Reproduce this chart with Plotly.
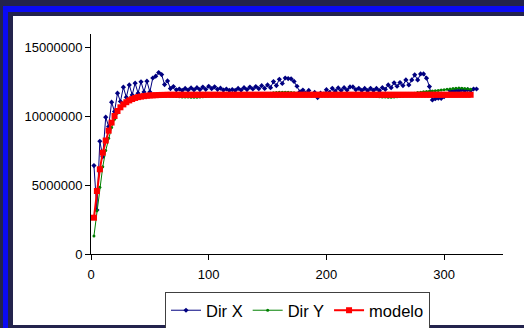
import plotly.graph_objects as go

# ---- data (values in millions) ----
x_dir_x = [2.5 * i for i in range(1, 132)]
x_dir_y = [2.5 * i for i in range(1, 130)]
x_modelo = [2.5 * i for i in range(1, 130)]

dir_x_m = [
    6.43, 3.20, 8.20, 7.08, 9.95, 9.27, 11.04, 10.36, 11.70, 11.09,
    12.13, 11.40, 12.30, 11.57, 12.42, 11.70, 12.52, 11.79, 12.57, 11.79,
    12.80, 12.93, 13.20, 13.05, 12.32, 12.59, 12.03, 12.18, 11.94, 12.00,
    11.90, 12.04, 11.92, 12.08, 11.94, 12.10, 11.96, 12.14, 11.98, 12.20,
    12.02, 12.16, 11.98, 12.06, 11.92, 12.00, 11.90, 11.96, 11.90, 12.04,
    11.92, 12.10, 11.96, 12.14, 12.00, 12.18, 12.02, 12.24, 12.04, 12.30,
    12.10, 12.54, 12.25, 12.71, 12.40, 12.80, 12.76, 12.74, 12.55, 12.20,
    11.80, 11.92, 11.70, 11.90, 11.55, 11.75, 11.38, 11.70, 11.62, 11.95,
    11.75, 12.05, 11.85, 12.08, 11.90, 12.10, 11.92, 12.15, 12.15, 11.95,
    12.05, 11.90, 12.04, 11.88, 12.05, 11.90, 12.04, 11.88, 12.10, 11.98,
    12.30, 12.10, 12.45, 12.20, 12.47, 12.25, 12.66, 12.30, 12.66, 13.03,
    12.66, 13.10, 13.10, 12.79, 12.18, 11.20, 11.30, 11.33, 11.32, 11.45,
    11.60, 11.90, 11.80, 11.92, 11.85, 11.95, 11.88, 11.95, 11.90, 12.00,
    12.00,
]

dir_y_m = [
    1.31, 3.15, 4.85, 6.35, 7.52, 8.42, 9.20, 9.80, 10.25, 10.60,
    10.85, 11.05, 11.20, 11.32, 11.40, 11.45, 11.49, 11.52, 11.54, 11.55,
    11.56, 11.57, 11.57, 11.56, 11.55, 11.53, 11.50, 11.48, 11.45, 11.43,
    11.42, 11.42, 11.41, 11.40, 11.40, 11.40, 11.41, 11.43, 11.45, 11.48,
    11.50, 11.53, 11.55, 11.57, 11.58, 11.59, 11.60, 11.60, 11.61, 11.61,
    11.62, 11.62, 11.62, 11.61, 11.61, 11.62, 11.63, 11.65, 11.66, 11.68,
    11.70, 11.72, 11.74, 11.76, 11.77, 11.77, 11.76, 11.74, 11.72, 11.70,
    11.68, 11.66, 11.65, 11.63, 11.62, 11.60, 11.58, 11.57, 11.56, 11.56,
    11.57, 11.58, 11.59, 11.60, 11.60, 11.60, 11.60, 11.59, 11.58, 11.57,
    11.56, 11.55, 11.54, 11.52, 11.50, 11.48, 11.45, 11.43, 11.42, 11.41,
    11.40, 11.40, 11.41, 11.43, 11.46, 11.50, 11.55, 11.60, 11.65, 11.70,
    11.74, 11.77, 11.80, 11.82, 11.84, 11.86, 11.88, 11.90, 11.92, 11.94,
    11.98, 12.00, 12.03, 12.06, 12.07, 12.06, 12.04, 12.01, 11.98,
]

modelo_m = [
    2.64, 4.58, 6.16, 7.37, 8.25, 8.97, 9.56, 10.04, 10.40, 10.67,
    10.88, 11.04, 11.17, 11.27, 11.35, 11.41, 11.45, 11.48, 11.51, 11.53,
    11.54, 11.55, 11.56, 11.57, 11.57, 11.58, 11.58, 11.58, 11.58, 11.58,
    11.58, 11.58, 11.58, 11.58, 11.58, 11.58, 11.58, 11.58, 11.58, 11.58,
    11.58, 11.58, 11.58, 11.58, 11.58, 11.58, 11.58, 11.58, 11.58, 11.58,
    11.58, 11.58, 11.58, 11.58, 11.58, 11.58, 11.58, 11.58, 11.58, 11.58,
    11.58, 11.58, 11.58, 11.58, 11.58, 11.58, 11.58, 11.58, 11.58, 11.58,
    11.58, 11.58, 11.58, 11.58, 11.58, 11.58, 11.58, 11.58, 11.58, 11.58,
    11.58, 11.58, 11.58, 11.58, 11.58, 11.58, 11.58, 11.58, 11.58, 11.58,
    11.58, 11.58, 11.58, 11.58, 11.58, 11.58, 11.58, 11.58, 11.58, 11.58,
    11.58, 11.58, 11.58, 11.58, 11.58, 11.58, 11.58, 11.58, 11.58, 11.58,
    11.58, 11.58, 11.58, 11.58, 11.58, 11.58, 11.58, 11.58, 11.58, 11.58,
    11.58, 11.58, 11.58, 11.58, 11.58, 11.58, 11.58, 11.58, 11.58,
]

series_names = ["Dir X", "Dir Y", "modelo"]
y_ticks = [0, 5000000, 10000000, 15000000]
x_ticks = [0, 100, 200, 300]

MILLION = 1e6
dir_x = [v * MILLION for v in dir_x_m]
dir_y = [v * MILLION for v in dir_y_m]
modelo = [v * MILLION for v in modelo_m]

FONT = "Arial, Liberation Sans, sans-serif"
FIG_W, FIG_H = 524, 328

fig = go.Figure()
fig.add_trace(go.Scatter(
    x=x_dir_x, y=dir_x, name=series_names[0], mode="lines+markers",
    line=dict(color="#000080", width=1),
    marker=dict(symbol="diamond", size=4, color="#000080"),
))
fig.add_trace(go.Scatter(
    x=x_dir_y, y=dir_y, name=series_names[1], mode="lines+markers",
    line=dict(color="#008000", width=1),
    marker=dict(symbol="circle", size=3, color="#008000"),
))
fig.add_trace(go.Scatter(
    x=x_modelo, y=modelo, name=series_names[2], mode="lines+markers",
    line=dict(color="#ff0000", width=2),
    marker=dict(symbol="square", size=6, color="#ff0000"),
))

# plot area: x 91..503 px, y 34..254 px
L, R, T, B = 91, 503, 34, 254
W, H = R - L, B - T


def px(xp):
    return (xp - L) / W


def py(yp):
    return (B - yp) / H


shapes = [
    dict(type="rect", xref="paper", yref="paper", layer="below",
         x0=px(3), x1=px(540), y0=py(340), y1=py(6),
         fillcolor="#0a0af5", line=dict(width=0)),
    dict(type="rect", xref="paper", yref="paper", layer="below",
         x0=px(8), x1=px(540), y0=py(340), y1=py(12),
         fillcolor="#23234d", line=dict(width=0)),
    dict(type="rect", xref="paper", yref="paper", layer="below",
         x0=px(13), x1=px(540), y0=py(325), y1=py(16),
         fillcolor="white", line=dict(width=0)),
]

fig.update_layout(
    width=FIG_W, height=FIG_H,
    margin=dict(l=L, r=FIG_W - R, t=T, b=FIG_H - B, autoexpand=False),
    paper_bgcolor="#23234d",
    plot_bgcolor="white",
    font=dict(family=FONT, color="black", size=13),
    shapes=shapes,
    showlegend=True,
    legend=dict(
        orientation="h",
        xref="container", yref="container",
        x=297.5 / FIG_W, xanchor="center",
        y=1 - 292 / FIG_H, yanchor="top",
        bgcolor="white", bordercolor="#404040", borderwidth=1,
        font=dict(family=FONT, size=16.5, color="black"),
        itemwidth=30, tracegroupgap=0,
    ),
    xaxis=dict(
        range=[0, 350], tickvals=x_ticks, showgrid=False, zeroline=False,
        showline=True, linecolor="black", linewidth=1, automargin=False,
        ticks="outside", ticklen=5, tickcolor="black", ticklabelstandoff=3,
        tickfont=dict(family=FONT, size=13, color="black"),
    ),
    yaxis=dict(
        range=[0, 16000000], tickvals=y_ticks, tickformat="d",
        showgrid=False, zeroline=False, automargin=False,
        showline=True, linecolor="black", linewidth=1,
        ticks="outside", ticklen=5, tickcolor="black",
        tickfont=dict(family=FONT, size=13, color="black"),
    ),
)

fig.write_html("out.html")
